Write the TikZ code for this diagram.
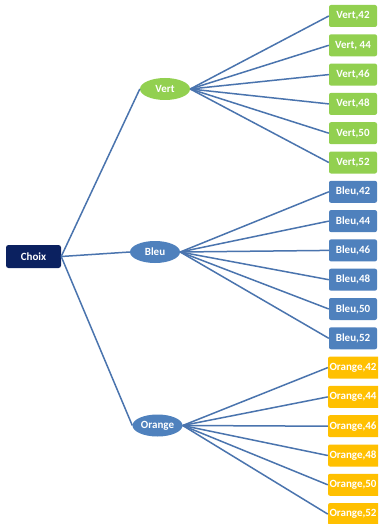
\documentclass[tikz,border=0pt]{standalone}
\usepackage{fontspec}
\setmainfont{Carlito}
\usetikzlibrary{shapes.geometric}
\definecolor{navy}{HTML}{0B2160}
\definecolor{leafgreen}{HTML}{92D050}
\definecolor{leafblue}{HTML}{4F81BD}
\definecolor{leaforange}{HTML}{FFC000}
\definecolor{wire}{HTML}{4A74AE}
\tikzset{
  txt/.style={text=white, font=\bfseries\fontsize{11}{13}\selectfont, inner sep=0pt},
  rootbox/.style={txt, fill=navy, rounded corners=2.5pt, minimum width=55pt, minimum height=23pt},
  branch/.style={txt, ellipse, minimum width=50pt, minimum height=22pt},
  leaf/.style={txt, rounded corners=2pt, minimum width=48pt, minimum height=22pt},
  oleaf/.style={leaf, fill=leaforange, minimum width=58pt, text width=56pt, align=left},
  wireline/.style={draw=wire, line width=1.5pt},
}
\begin{document}
\begin{tikzpicture}[x=1pt, y=-1pt]
\clip (0,0) rectangle (378,524);
\fill[white] (0,0) rectangle (378,524);

% root and the three colour branches
\node[rootbox] (choix) at (33.5,256.5) {Choix};
\node[branch, fill=leafgreen] (vert) at (165,89) {Vert};
\node[branch, fill=leafblue] (bleu) at (155,252) {Bleu};
\node[branch, fill=leafblue] (orange) at (157.5,425.5) {Orange};

% leaves: eighteen boxes evenly spaced down the right edge
\foreach \s [count=\i from 0] in {42,44,46,48,50,52} {
  \node[leaf, fill=leafgreen] (v\s) at (353, 16+\i*29.3) {Vert,\ifnum\s=44\ \fi\s};
  \node[leaf, fill=leafblue] (b\s) at (353, 16+\i*29.3+6*29.3) {Bleu,\s};
  \node[oleaf] (o\s) at (357, 16+\i*29.3+12*29.3) {\hspace{0.5pt}Orange,\s};
}

% connectors
\draw[wireline] (choix.east) -- (vert.west);
\draw[wireline] (choix.east) -- (bleu.west);
\draw[wireline] (choix.east) -- (orange.west);
\foreach \s in {42,44,46,48,50,52} {
  \draw[wireline] (vert.east) -- (v\s.west);
  \draw[wireline] (bleu.east) -- (b\s.west);
  \draw[wireline] (orange.east) -- (o\s.west);
}
\end{tikzpicture}
\end{document}
